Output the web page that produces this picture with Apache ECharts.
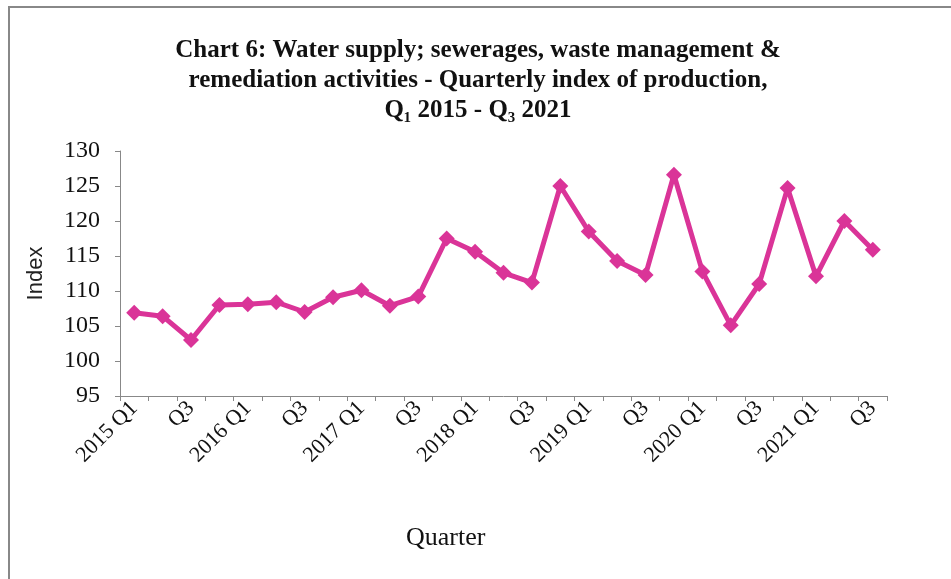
<!DOCTYPE html>
<html>
<head>
<meta charset="utf-8">
<script src="https://cdn.jsdelivr.net/npm/echarts@6/dist/echarts.min.js"></script>
<style>html,body{margin:0;padding:0;background:#fff;}#c{width:951px;height:579px;}</style>
</head>
<body>
<div id="c"></div>
<script>
const categories = [
  "2015 Q1","Q2","Q3","Q4",
  "2016 Q1","Q2","Q3","Q4",
  "2017 Q1","Q2","Q3","Q4",
  "2018 Q1","Q2","Q3","Q4",
  "2019 Q1","Q2","Q3","Q4",
  "2020 Q1","Q2","Q3","Q4",
  "2021 Q1","Q2","Q3"
];
const indexValues = [
  106.9,106.4,103.0,108.0,
  108.1,108.4,107.0,109.1,
  110.1,107.9,109.2,117.5,
  115.6,112.6,111.2,125.0,
  118.5,114.3,112.3,126.6,
  112.8,105.1,111.0,124.7,
  112.1,120.0,115.9
];
const yTicks = { min: 95, max: 130, interval: 5 };
const titleText = "Chart 6: Water supply; sewerages, waste management &\nremediation activities - Quarterly index of production,\nQ\u2081 2015 - Q\u2083 2021";

const chart = echarts.init(document.getElementById('c'), null, {renderer: 'canvas'});
chart.setOption({
  animation: false,
  backgroundColor: '#fff',
  title: {
    text: titleText,
    left: 473,
    textAlign: 'center',
    top: 31,
    textStyle: {
      fontFamily: 'Liberation Serif',
      fontWeight: 'bold',
      fontSize: 25,
      lineHeight: 30,
      color: '#111'
    }
  },
  grid: { left: 120, right: 64, top: 151, bottom: 183 },
  xAxis: {
    type: 'category',
    data: categories,
    boundaryGap: true,
    axisLine: { lineStyle: { color: '#888', width: 1 } },
    axisTick: { show: true, interval: 0, length: 5, lineStyle: { color: '#888' } },
    axisLabel: {
      interval: 1,
      rotate: 45,
      margin: 9,
      fontFamily: 'Liberation Serif',
      fontSize: 22,
      color: '#111'
    }
  },
  yAxis: {
    type: 'value',
    min: yTicks.min, max: yTicks.max, interval: yTicks.interval,
    name: 'Index',
    nameLocation: 'middle',
    nameGap: 73,
    nameRotate: 90,
    nameTextStyle: { fontFamily: 'Liberation Sans', fontSize: 22, color: '#222' },
    axisLine: { show: true, lineStyle: { color: '#888', width: 1 } },
    axisTick: { show: true, length: 5, lineStyle: { color: '#888' } },
    splitLine: { show: false },
    axisLabel: {
      margin: 20,
      fontFamily: 'Liberation Serif',
      fontSize: 24,
      color: '#111'
    }
  },
  series: [{
    type: 'line',
    data: indexValues,
    symbol: 'diamond',
    symbolSize: 16,
    lineStyle: { color: '#da3498', width: 5 },
    itemStyle: { color: '#da3498' }
  }],
  graphic: [
    {
      type: 'rect',
      shape: { x: 9, y: 7, width: 1000, height: 700 },
      style: { fill: 'none', stroke: '#888', lineWidth: 2 },
      silent: true
    },
    {
      type: 'text',
      left: 406,
      top: 525,
      style: { text: 'Quarter', font: '26px "Liberation Serif"', fill: '#111' }
    }
  ]
});
</script>
</body>
</html>
